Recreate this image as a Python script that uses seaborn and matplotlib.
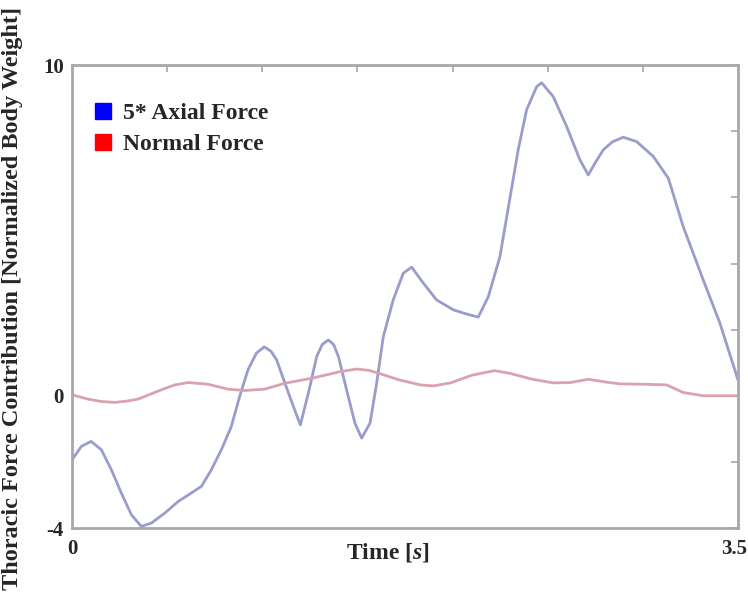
import numpy as np
import pandas as pd
import seaborn as sns
import matplotlib
matplotlib.use("Agg")
import matplotlib.pyplot as plt
from matplotlib.lines import Line2D
from matplotlib.transforms import ScaledTranslation

# 5 * axial force over time
axial_t = [0.000, 0.049, 0.100, 0.154, 0.207, 0.259, 0.312, 0.364, 0.417, 0.487,
           0.557, 0.627, 0.680, 0.732, 0.785, 0.837, 0.881, 0.925, 0.969, 1.010,
           1.045, 1.075, 1.119, 1.163, 1.200, 1.242, 1.286, 1.315, 1.347, 1.375,
           1.400, 1.443, 1.487, 1.522, 1.566, 1.601, 1.636, 1.688, 1.741, 1.785,
           1.846, 1.916, 2.004, 2.070, 2.135, 2.188, 2.249, 2.300, 2.345, 2.389,
           2.442, 2.468, 2.529, 2.600, 2.669, 2.713, 2.750, 2.792, 2.840, 2.897,
           2.967, 3.055, 3.134, 3.212, 3.317, 3.405, 3.500]
axial_f = [-1.94, -1.53, -1.38, -1.63, -2.24, -2.94, -3.60, -3.95, -3.85, -3.55,
           -3.20, -2.94, -2.74, -2.24, -1.63, -0.93, -0.02, 0.79, 1.29, 1.48,
           1.35, 1.09, 0.38, -0.32, -0.88, 0.08, 1.19, 1.55, 1.69, 1.55,
           1.19, 0.18, -0.83, -1.28, -0.83, 0.38, 1.79, 2.90, 3.71, 3.89,
           3.41, 2.90, 2.60, 2.48, 2.38, 3.00, 4.21, 5.93, 7.44, 8.65,
           9.35, 9.47, 9.05, 8.14, 7.14, 6.68, 7.05, 7.44, 7.68, 7.82,
           7.69, 7.24, 6.58, 5.12, 3.51, 2.20, 0.48]

# Normal force over time
normal_t = [0.000, 0.084, 0.150, 0.224, 0.290, 0.347, 0.469, 0.540, 0.610, 0.715,
            0.820, 0.907, 1.012, 1.119, 1.268, 1.408, 1.496, 1.560, 1.618, 1.720,
            1.830, 1.900, 1.990, 2.100, 2.220, 2.300, 2.420, 2.530, 2.617, 2.713,
            2.800, 2.880, 3.000, 3.125, 3.212, 3.317, 3.500]
normal_f = [0.03, -0.10, -0.17, -0.20, -0.16, -0.10, 0.18, 0.33, 0.40, 0.35,
            0.20, 0.16, 0.20, 0.38, 0.54, 0.73, 0.81, 0.77, 0.67, 0.48,
            0.33, 0.30, 0.39, 0.62, 0.76, 0.68, 0.50, 0.39, 0.40, 0.50,
            0.42, 0.36, 0.35, 0.33, 0.10, 0.00, 0.00]

series_names = ["5* Axial Force", "Normal Force"]
line_colors = ["#9a9ccb", "#d9a3ad"]
legend_colors = ["#0000ff", "#ff0000"]

x_ticks = [0, 0.5, 1.0, 1.5, 2.0, 2.5, 3.0, 3.5]
x_labeled = {0: "0", 3.5: "3.5"}
y_ticks = [-4, -2, 0, 2, 4, 6, 8, 10]
y_labeled = {-4: "-4", 0: "0", 10: "10"}

df = pd.concat([
    pd.DataFrame({"t": axial_t, "f": axial_f, "series": series_names[0]}),
    pd.DataFrame({"t": normal_t, "f": normal_f, "series": series_names[1]}),
], ignore_index=True)

sns.set_style("white")
plt.rcParams["font.family"] = ["Liberation Serif", "DejaVu Serif"]
plt.rcParams["font.weight"] = "bold"
plt.rcParams["mathtext.fontset"] = "custom"
plt.rcParams["mathtext.it"] = "Liberation Serif:italic:bold"
plt.rcParams["mathtext.rm"] = "Liberation Serif:bold"

fig = plt.figure(figsize=(7.48, 5.98), dpi=100)
ax = fig.add_axes([0.0963, 0.117, 0.8903, 0.774])

sns.lineplot(data=df, x="t", y="f", hue="series", palette=dict(zip(series_names, line_colors)),
             linewidth=2.0, ax=ax, legend=False, sort=False)

ax.set_xlim(0, 3.5)
ax.set_ylim(-4, 10)
ax.set_xticks(x_ticks)
ax.set_xticklabels([x_labeled.get(v, "") for v in x_ticks])
ax.set_yticks(y_ticks)
ax.set_yticklabels([y_labeled.get(v, "") for v in y_ticks])

frame_color = "#a8a8a8"
for sp in ax.spines.values():
    sp.set_color(frame_color)
    sp.set_linewidth(2.0)
ax.tick_params(direction="in", length=5, width=1.2, color=frame_color,
               top=True, right=True, labelsize=15)
ax.tick_params(axis="x", pad=8)
ax.tick_params(axis="y", pad=6)
for lbl in ax.get_xticklabels() + ax.get_yticklabels():
    lbl.set_fontweight("bold")

# the end label sits flush with the right edge of the figure
last = ax.get_xticklabels()[-1]
last.set_horizontalalignment("right")
last.set_transform(last.get_transform() + ScaledTranslation(0.09, 0, fig.dpi_scale_trans))

ax.set_xlabel(r"Time [$\mathit{s}$]", fontsize=17, fontweight="bold")
ax.xaxis.set_label_coords(0.474, -0.028)
ax.set_ylabel("Thoracic Force Contribution [Normalized Body Weight]", fontsize=17.5,
              fontweight="bold")
ax.yaxis.set_label_coords(-0.0736, 0.495)

handles = [Line2D([], [], marker="s", linestyle="none", markersize=11,
                  markerfacecolor=c, markeredgecolor=c) for c in legend_colors]
ax.legend(handles, series_names, loc="upper left", bbox_to_anchor=(0.014, 0.940),
          frameon=False, prop={"family": "Liberation Serif", "weight": "bold", "size": 17},
          handlelength=1.0, handletextpad=0.37, labelspacing=0.42, borderaxespad=0.0)

fig.savefig("out.png", dpi=100)
